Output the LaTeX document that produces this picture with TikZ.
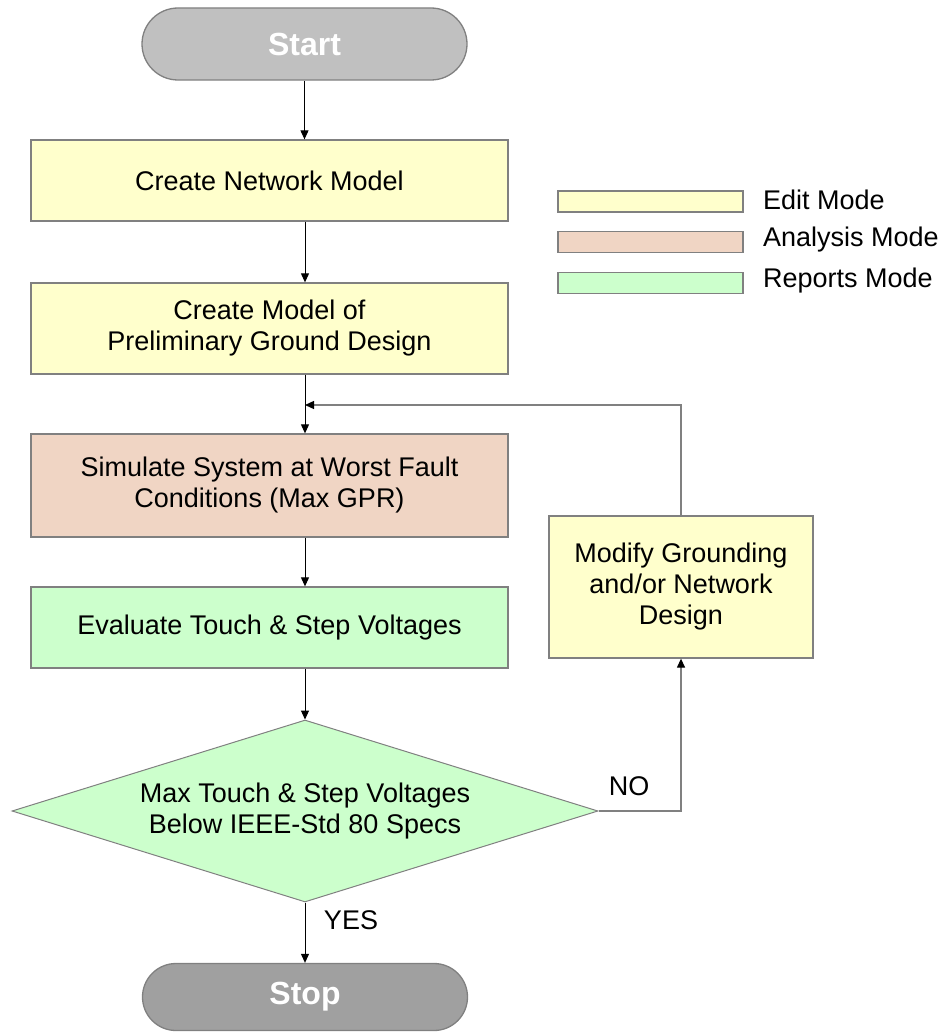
\documentclass[tikz,border=0pt]{standalone}
\usepackage{fontspec}
\setmainfont{Liberation Sans}
\usetikzlibrary{arrows.meta,shapes}
\usetikzlibrary{shapes.geometric,shapes.misc}
\usetikzlibrary{positioning}
\usetikzlibrary{calc}
\definecolor{editcol}{HTML}{FFFFCC}
\definecolor{anacol}{HTML}{F0D5C4}
\definecolor{repcol}{HTML}{CCFFCC}
\definecolor{startcol}{HTML}{C0C0C0}
\definecolor{stopcol}{HTML}{A0A0A0}
\definecolor{rimcol}{HTML}{808080}
\tikzset{
	% >=stealth, %%  old arrows
	>={Triangle[length=9pt,width=8pt]},
	stepbox/.style={rectangle, draw=rimcol, line width=1.3pt, minimum width=477pt,
		align=center, inner sep=0pt, font=\fontsize{27}{31}\selectfont},
	editbox/.style={stepbox, fill=editcol},
	anabox/.style={stepbox, fill=anacol},
	repbox/.style={stepbox, fill=repcol},
	terminal/.style={rounded rectangle, draw=rimcol, line width=1.3pt, minimum width=325pt,
		text=white, inner sep=0pt, font=\fontsize{32}{36}\selectfont\bfseries},
	decision/.style={diamond, draw=rimcol, line width=1pt, fill=repcol, inner sep=0pt,
		aspect=3.22, minimum width=586pt, minimum height=182pt, align=center,
		font=\fontsize{27}{31}\selectfont},
	keybox/.style={rectangle, draw=rimcol, line width=1.3pt, minimum width=185pt,
		minimum height=21pt, inner sep=0pt},
	keytext/.style={anchor=west, inner sep=0pt, font=\fontsize{27}{31}\selectfont},
	flow/.style={draw=black, line width=1pt, ->},
	loopline/.style={draw=rimcol, line width=1.3pt},
	looparrow/.style={loopline, -{Triangle[length=9pt,width=8pt,black]}},
}
\begin{document}
\begin{tikzpicture}[x=1pt, y=-1pt]
\useasboundingbox (0,0) rectangle (941,1033);

		\node[terminal, fill=startcol, minimum height=72pt] (start) at (304.5,44) {Start};
		\node[editbox, minimum height=81pt] (net) at (269.5,180.5) {Create Network Model};
		\node[editbox, minimum height=91pt] (prelim) at (269.5,328.5) {Create Model of\\Preliminary Ground Design};
		\node[anabox, minimum height=103pt] (sim) at (269.5,485.5) {Simulate System at Worst Fault\\Conditions (Max GPR)};
		\node[repbox, minimum height=81pt] (touch) at (269.5,627.5) {Evaluate Touch \& Step Voltages};
		\node[decision] (check) at (305,811) {Max Touch \& Step Voltages\\Below IEEE-Std 80 Specs};
		\node[terminal, fill=stopcol, minimum height=67pt] (stop) at (305,997) {Stop};
		\node[stepbox, fill=editcol, minimum width=264pt, minimum height=142pt] (modify) at (681,587) {Modify Grounding\\and/or Network\\Design};

		% legend
		\node[keybox, fill=editcol] (keyedit) at (650.5,201.5) {};
		\node[keybox, fill=anacol] (keyana) at (650.5,242) {};
		\node[keybox, fill=repcol] (keyrep) at (650.5,283) {};
		\node[keytext] (editlbl) at (763,200) {Edit Mode};
		\node[keytext] (analbl) at (763,240) {Analysis Mode};
		\node[keytext] (replbl) at (763,281) {Reports Mode};

		\coordinate (join) at (305,405);

		\draw[flow] (start.south) -- (start.south |- net.north);
		\draw[flow] (join |- net.south) -- (join |- prelim.north);
		\draw[flow] (join |- prelim.south) -- (join |- sim.north);
		\draw[flow] (join |- sim.south) -- (join |- touch.north);
		\draw[flow] (join |- touch.south) -- (check.north);
		\draw[flow] (check.south) -- (stop.north);
		\draw[looparrow] (check.east) -| (modify.south);
		\draw[looparrow] (modify.north) |- (join);

		\node[font=\fontsize{27}{31}\selectfont] (nolbl) at (629,786) {NO};
		\node[font=\fontsize{27}{31}\selectfont] (yeslbl) at (351,920) {YES};
\end{tikzpicture}
\end{document}
